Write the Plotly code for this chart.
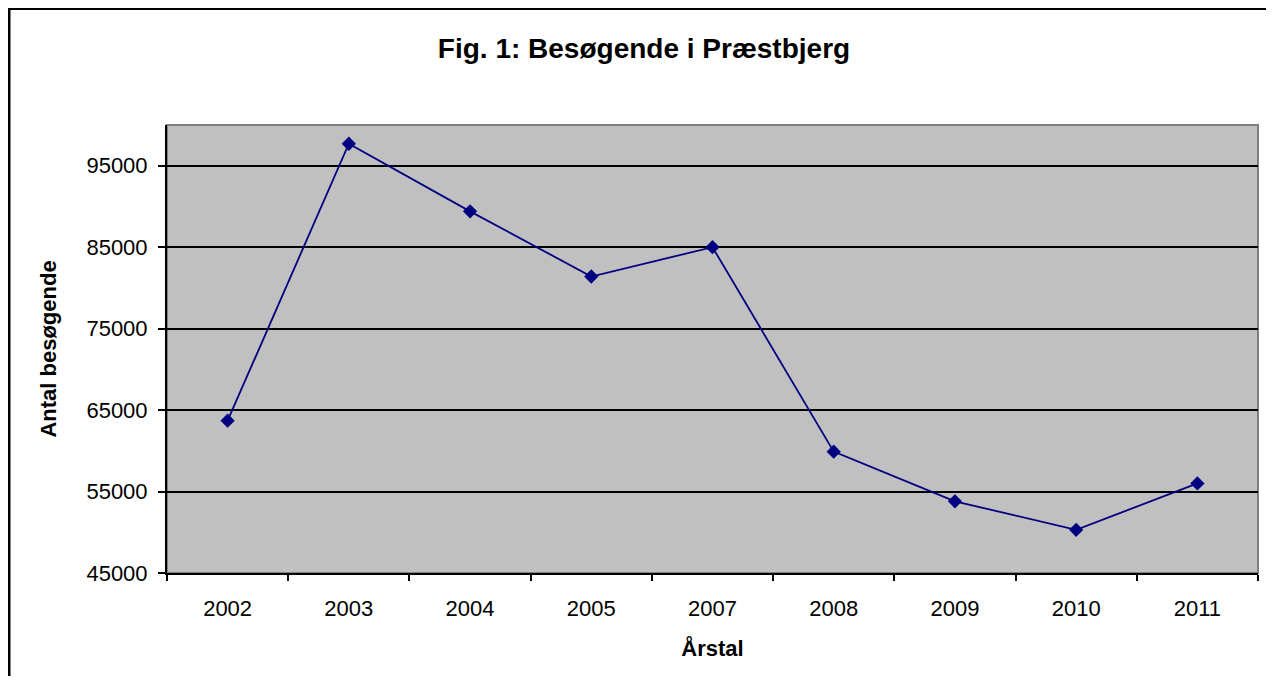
import plotly.graph_objects as go

years = ["2002", "2003", "2004", "2005", "2007", "2008", "2009", "2010", "2011"]
visitors = [63700, 97700, 89400, 81400, 85000, 59900, 53800, 50300, 56000]
y_ticks = [45000, 55000, 65000, 75000, 85000, 95000]

# page body has an 8px margin; figure sits at (8, 8) in the window
W, H = 1264, 668
L, T = 159, 117
R = W - 1250
B = H - 565
pw, ph = W - L - R, H - T - B

def px2x(px):
    return (px - L) / pw

def px2y(py):
    return (H - B - py) / ph

font = "Liberation Sans, Arial, sans-serif"

fig = go.Figure()
fig.add_trace(go.Scatter(
    x=years, y=visitors, mode="lines+markers",
    line=dict(color="#000080", width=1.8),
    marker=dict(symbol="diamond", size=11, color="#000080"),
    showlegend=False,
))

fig.update_layout(
    width=W, height=H,
    margin=dict(l=L, r=R, t=T, b=B),
    paper_bgcolor="white",
    plot_bgcolor="#C0C0C0",
    font=dict(family=font, color="black", size=22),
    title=dict(text="<b>Fig. 1: Besøgende i Præstbjerg</b>",
               x=(644 - 8) / W, xanchor="center", y=1 - 40 / H, yanchor="middle",
               font=dict(size=28, family=font, color="black")),
    xaxis=dict(
        type="category", range=[-0.5, len(years) - 0.5],
        showgrid=False, zeroline=False,
        showline=True, linecolor="black", linewidth=2,
        ticks="outside", tickson="boundaries", ticklen=6, tickcolor="black", tickwidth=1.5,
        tickfont=dict(size=22), ticklabelstandoff=15,
        title=dict(text="<b>Årstal</b>", font=dict(size=22), standoff=20),
    ),
    yaxis=dict(
        range=[45000, 100000], tickvals=y_ticks, tickformat="d",
        showgrid=True, gridcolor="black", gridwidth=1.5,
        zeroline=False,
        showline=True, linecolor="black", linewidth=2,
        ticks="outside", ticklen=7, tickcolor="black", tickwidth=1.5,
        tickfont=dict(size=22), ticklabelstandoff=6,
        title=dict(text="<b>Antal besøgende</b>", font=dict(size=22), standoff=24),
    ),
    shapes=[
        dict(type="rect", xref="paper", yref="paper",
             x0=0, x1=1, y0=0, y1=1,
             line=dict(color="#808080", width=2), layer="below"),
        dict(type="rect", xref="paper", yref="paper",
             x0=px2x(1), x1=px2x(W - 0.5), y0=px2y(0.5), y1=px2y(H + 40),
             line=dict(color="black", width=3), layer="above"),
    ],
)

fig.write_html("out.html")
